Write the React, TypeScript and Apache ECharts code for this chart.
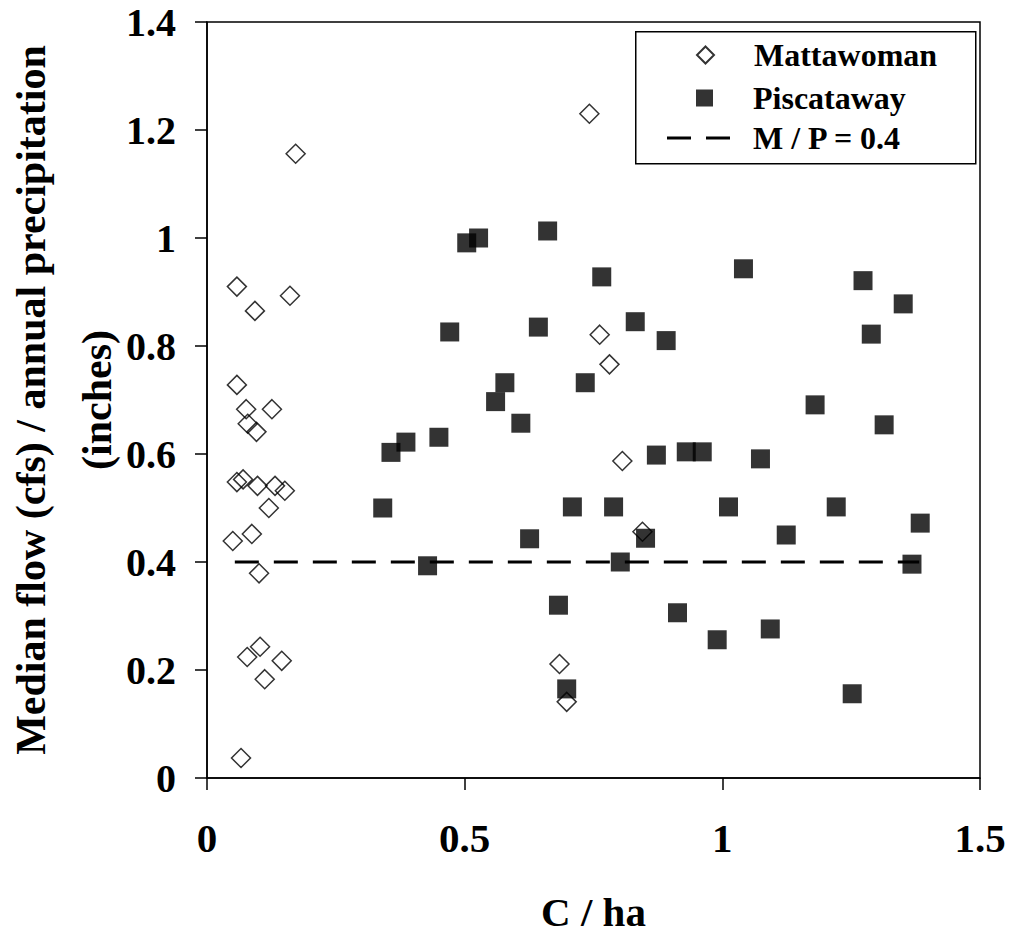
import React, { useEffect, useRef } from "react";
import * as echarts from "echarts";

// Mattawoman watershed points [C/ha, median flow / annual precipitation]
const mattawoman: [number, number][] = [
  [0.742, 1.23], [0.172, 1.156], [0.058, 0.91], [0.161, 0.893], [0.093, 0.865],
  [0.058, 0.728], [0.076, 0.683], [0.126, 0.683], [0.762, 0.821], [0.781, 0.766],
  [0.079, 0.656], [0.096, 0.641], [0.058, 0.548], [0.07, 0.553], [0.098, 0.541],
  [0.132, 0.541], [0.151, 0.532], [0.12, 0.5], [0.05, 0.439], [0.087, 0.452],
  [0.101, 0.379], [0.103, 0.243], [0.078, 0.224], [0.145, 0.217], [0.112, 0.183],
  [0.066, 0.037], [0.684, 0.211], [0.698, 0.141], [0.806, 0.587], [0.845, 0.456],
];

// Piscataway watershed points
const piscataway: [number, number][] = [
  [0.504, 0.991], [0.527, 1.0], [0.661, 1.013], [0.766, 0.928], [0.471, 0.826],
  [0.643, 0.835], [0.578, 0.732], [0.56, 0.697], [0.734, 0.732], [0.609, 0.657],
  [1.041, 0.943], [0.831, 0.845], [0.891, 0.81], [1.273, 0.921], [1.351, 0.878],
  [1.289, 0.822], [1.18, 0.691], [1.314, 0.654], [0.357, 0.603], [0.386, 0.622],
  [0.45, 0.631], [0.341, 0.5], [0.626, 0.443], [0.709, 0.502], [0.789, 0.502],
  [0.428, 0.393], [0.682, 0.32], [0.698, 0.165], [0.872, 0.598], [0.93, 0.604],
  [0.961, 0.604], [1.074, 0.591], [1.012, 0.502], [1.221, 0.502], [1.384, 0.472],
  [0.851, 0.444], [1.124, 0.45], [0.802, 0.4], [1.368, 0.396], [0.913, 0.306],
  [0.99, 0.256], [1.093, 0.276], [1.252, 0.156],
];

// Reference line M / P = 0.4
const refLine: [number, number][] = [
  [0.054, 0.4], [1.382, 0.4],
];

const seriesNames = ["Mattawoman", "Piscataway", "M / P = 0.4"];
const xTitle = "C / ha";
const yTitle = "Median flow (cfs) / annual precipitation\n(inches)";

const FONT = "'Liberation Serif', 'Times New Roman', serif";

const legendText = {
  fontFamily: FONT,
  fontWeight: "bold",
  fontSize: 32,
  lineHeight: 32,
  color: "#000",
};

export default function App() {
  const ref = useRef<HTMLDivElement>(null);

  useEffect(() => {
    document.body.style.margin = "0";
    if (!ref.current) return;
    const chart = echarts.init(ref.current, null, { renderer: "svg" });
    chart.setOption({
      animation: false,
      backgroundColor: "#fff",
      textStyle: { fontFamily: FONT, color: "#000" },
      grid: {
        left: 207,
        top: 22,
        right: 31,
        bottom: 157,
        containLabel: false,
        outerBoundsMode: "none",
        show: true,
        borderColor: "#000",
        borderWidth: 1.5,
      },
      graphic: [
        {
          type: "rect",
          left: 635,
          top: 31,
          shape: { width: 340, height: 132 },
          style: { fill: "#fff", stroke: "#000", lineWidth: 1.5 },
          z: 5,
        },
      ],
      legend: [
        {
          orient: "vertical",
          left: 696,
          top: 39,
          data: [{ name: seriesNames[0], icon: "path://M0,-1L1,0L0,1L-1,0Z" }],
          itemWidth: 17,
          itemHeight: 17,
          padding: 0,
          z: 10,
          textStyle: { ...legendText, padding: [0, 0, 0, 35] },
        },
        {
          orient: "vertical",
          left: 696,
          top: 82,
          data: [{ name: seriesNames[1], icon: "rect" }],
          itemWidth: 17,
          itemHeight: 17,
          padding: 0,
          z: 10,
          textStyle: { ...legendText, padding: [0, 0, 0, 35] },
        },
        {
          orient: "vertical",
          left: 667,
          top: 122,
          data: [{ name: seriesNames[2], icon: "path://M0,0h24v3h-24zM39,0h24v3h-24z" }],
          itemWidth: 63,
          itemHeight: 3,
          padding: 0,
          z: 10,
          textStyle: { ...legendText, padding: [0, 0, 0, 18] },
        },
      ],
      xAxis: {
        type: "value",
        min: 0,
        max: 1.5,
        interval: 0.5,
        name: xTitle,
        nameLocation: "middle",
        nameGap: 113,
        nameMoveOverlap: false,
        nameTextStyle: { fontFamily: FONT, fontWeight: "bold", fontSize: 41, color: "#000" },
        splitLine: { show: false },
        axisLine: { lineStyle: { color: "#000", width: 1.5 } },
        axisTick: { length: 12, lineStyle: { color: "#000", width: 1.5 } },
        axisLabel: { fontFamily: FONT, fontWeight: "bold", fontSize: 41, color: "#000", margin: 39 },
      },
      yAxis: {
        type: "value",
        min: 0,
        max: 1.4,
        interval: 0.2,
        name: yTitle,
        nameLocation: "middle",
        nameRotate: 90,
        nameGap: 77,
        nameMoveOverlap: false,
        nameTextStyle: {
          fontFamily: FONT,
          fontWeight: "bold",
          fontSize: 42,
          lineHeight: 66,
          color: "#000",
          align: "center",
        },
        splitLine: { show: false },
        axisLine: { lineStyle: { color: "#000", width: 1.5 } },
        axisTick: { length: 12, lineStyle: { color: "#000", width: 1.5 } },
        axisLabel: { fontFamily: FONT, fontWeight: "bold", fontSize: 40, color: "#000", margin: 31 },
      },
      series: [
        {
          name: seriesNames[0],
          type: "scatter",
          symbol: "diamond",
          symbolSize: 19,
          data: mattawoman,
          z: 3,
          itemStyle: { color: "rgba(0,0,0,0)", borderColor: "#000", borderWidth: 1.5 },
        },
        {
          name: seriesNames[1],
          type: "scatter",
          symbol: "rect",
          symbolSize: 19,
          data: piscataway,
          z: 4,
          itemStyle: { color: "#000" },
        },
        {
          name: seriesNames[2],
          type: "line",
          symbol: "none",
          data: refLine,
          z: 2,
          lineStyle: { color: "#000", width: 3, type: [24, 15] },
          itemStyle: { color: "#000" },
        },
      ],
    });
    return () => chart.dispose();
  }, []);

  return <div ref={ref} style={{ width: 1011, height: 935 }} />;
}
